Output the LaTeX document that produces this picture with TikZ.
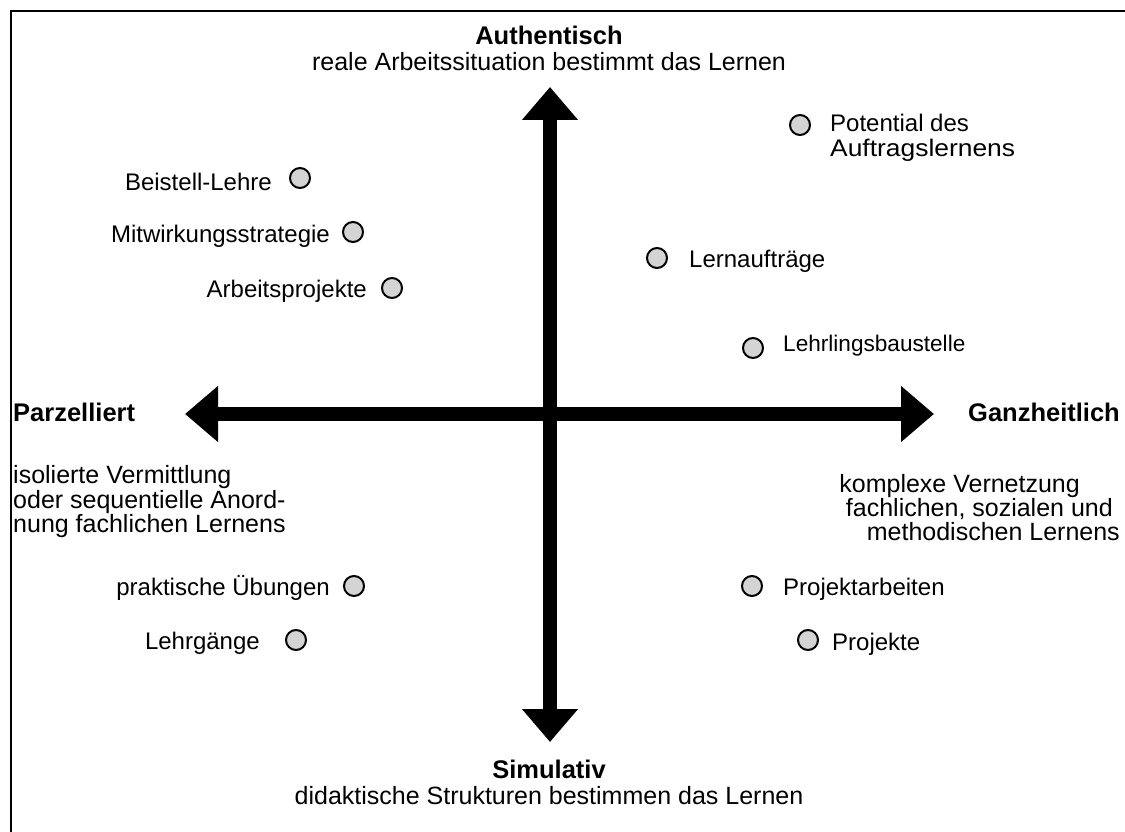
\documentclass[tikz,border=0pt]{standalone}
\usepackage{fontspec}
\setmainfont{Liberation Sans}
\usetikzlibrary{arrows.meta}
\tikzset{
  lbl/.style={inner sep=0pt, font=\fontsize{24}{25}\selectfont},
  dsc/.style={inner sep=0pt, font=\fontsize{25}{24.6}\selectfont},
  ttl/.style={inner sep=0pt, font=\fontsize{25.5}{26}\selectfont\bfseries},
  dot/.style={circle, draw=black, line width=2pt, fill=black!17, minimum size=20pt, inner sep=0pt},
  axis/.style={line width=14pt, {Triangle[length=33pt,width=54pt]}-{Triangle[length=33pt,width=54pt]}},
}
\begin{document}
\begin{tikzpicture}[x=1pt,y=-1pt]
\useasboundingbox (0,0) rectangle (1125,832);
\fill[white] (0,0) rectangle (1125,832);
% frame (right and bottom lie outside the picture)
\draw[line width=2.2pt] (11,850) -- (11,11) -- (1140,11);

% axes
\coordinate (top) at (550,87);
\coordinate (bot) at (550,742);
\coordinate (lft) at (185,414);
\coordinate (rgt) at (934,414);
\draw[axis] (bot) -- (top);
\draw[axis] (lft) -- (rgt);

% axis titles
\node[ttl, anchor=base] (auth) at (549,45) {Authentisch};
\node[dsc, anchor=base] (authd) at (549,71) {reale Arbeitssituation bestimmt das Lernen};
\node[ttl, anchor=base] (sim) at (549,778) {Simulativ};
\node[dsc, anchor=base] (simd) at (549,804) {didaktische Strukturen bestimmen das Lernen};
\node[ttl, anchor=base west] (parz) at (13,421) {Parzelliert};
\node[ttl, anchor=base east] (ganz) at (1120,421) {Ganzheitlich};

\node[dsc, anchor=base west] (p1) at (13,483) {isolierte Vermittlung};
\node[dsc, anchor=base west] (p2) at (13,508) {oder sequentielle Anord-};
\node[dsc, anchor=base west] (p3) at (13,532) {nung fachlichen Lernens};
\node[dsc, anchor=base east] (g1) at (1080,492) {komplexe Vernetzung};
\node[dsc, anchor=base east] (g2) at (1113,516) {fachlichen, sozialen und};
\node[dsc, anchor=base east] (g3) at (1120,540) {methodischen Lernens};

% items upper left
\node[dot] (d1) at (300,178) {};
\node[lbl, anchor=base east] (t1) at (272,190) {Beistell-Lehre};
\node[dot] (d2) at (353,232) {};
\node[lbl, anchor=base east] (t2) at (330,242) {Mitwirkungsstrategie};
\node[dot] (d3) at (392,288) {};
\node[lbl, anchor=base east] (t3) at (367,297) {Arbeitsprojekte};

% items upper right
\node[dot] (d4) at (800,125) {};
\node[lbl, anchor=base west] (t4a) at (830,132) {Potential des};
\node[lbl, anchor=base west] (t4b) at (830,157) {\scalebox{1.1}[1]{Auftragslernens}};
\node[dot] (d5) at (657,258) {};
\node[lbl, anchor=base west] (t5) at (689,267) {Lernaufträge};
\node[dot] (d6) at (753,348) {};
\node[lbl, anchor=base west, font=\fontsize{22.6}{24}\selectfont] (t6) at (783,351) {Lehrlingsbaustelle};

% items lower left
\node[dot] (d7) at (354,586) {};
\node[lbl, anchor=base east] (t7) at (330,595) {praktische Übungen};
\node[dot] (d8) at (296,640) {};
\node[lbl, anchor=base east] (t8) at (260,649) {Lehrgänge};

% items lower right
\node[dot] (d9) at (752,586) {};
\node[lbl, anchor=base west] (t9) at (783,595) {Projektarbeiten};
\node[dot] (d10) at (808,640) {};
\node[lbl, anchor=base west] (t10) at (832,650) {Projekte};
\end{tikzpicture}
\end{document}
